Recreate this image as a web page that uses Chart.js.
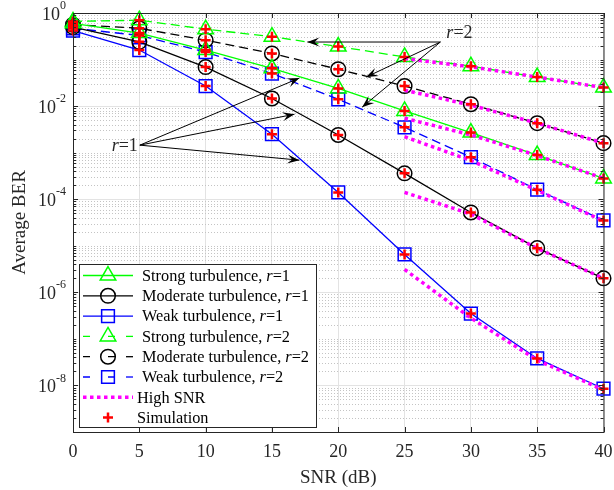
<!DOCTYPE html>
<html>
<head>
<meta charset="utf-8">
<script src="https://cdn.jsdelivr.net/npm/chart.js@4/dist/chart.umd.min.js"></script>
<style>
  html, body { margin: 0; padding: 0; background: #fff; }
  #wrap { width: 614px; height: 490px; }
</style>
</head>
<body>
<div id="wrap"><canvas id="c" width="614" height="490"></canvas></div>
<script>
// SNR (dB) on the x axis
const snr = [0, 5, 10, 15, 20, 25, 30, 35, 40];

// analytical curves, r = 1
const strongR1   = [0.60, 0.37, 0.16, 0.065, 0.024, 0.0079, 0.0027, 8.9e-4, 2.8e-4];
const moderateR1 = [0.50, 0.24, 0.069, 0.0146, 0.0024, 3.6e-4, 5.2e-5, 8.9e-6, 2.0e-6];
const weakR1     = [0.42, 0.16, 0.027, 0.0025, 1.4e-4, 6.5e-6, 3.5e-7, 3.8e-8, 8.5e-9];

// analytical curves, r = 2
const strongR2   = [0.66, 0.70, 0.45, 0.31, 0.19, 0.114, 0.072, 0.042, 0.025];
const moderateR2 = [0.56, 0.47, 0.26, 0.135, 0.062, 0.027, 0.011, 0.0043, 0.0016];
const weakR2     = [0.47, 0.33, 0.145, 0.05, 0.014, 0.0035, 8.0e-4, 1.6e-4, 3.5e-5];

// high SNR asymptotes
const highSnrX    = [25, 30, 35, 40];
const hsStrongR2  = [0.105, 0.070, 0.042, 0.025];
const hsModerateR2 = [0.022, 0.0105, 0.0043, 0.0016];
const hsStrongR1  = [0.0055, 0.0024, 8.7e-4, 2.8e-4];
const hsWeakR2    = [0.0022, 6.8e-4, 1.55e-4, 3.4e-5];
const hsModerateR1 = [1.4e-4, 4.8e-5, 8.8e-6, 2.0e-6];
const hsWeakR1    = [3.1e-6, 2.8e-7, 3.5e-8, 8.0e-9];

// ticks
const xTickVals = [0, 5, 10, 15, 20, 25, 30, 35, 40];
const yLabelExps = [0, -2, -4, -6, -8];

// annotation arrows (data coordinates)
const r1Origin = [5.04, 1.45e-3];
const r1Tips = [[17.07, 0.040], [16.7, 6.7e-3], [17.07, 6.9e-4]];
const r2Origin = [27.7, 0.238];
const r2Tips = [[17.67, 0.238], [22.1, 0.042], [21.8, 0.0095]];

const GREEN = '#00ff00', BLACK = '#000000', BLUE = '#0000ff', MAGENTA = '#ff00ff', RED = '#ff0000';
const FONT = '"Liberation Serif", "Times New Roman", serif';

const curves = [
  { name: 'Strong turbulence, ', r: '1', data: strongR1, color: GREEN, style: 'triangle', radius: 9, dash: [] },
  { name: 'Moderate turbulence, ', r: '1', data: moderateR1, color: BLACK, style: 'circle', radius: 7.3, dash: [] },
  { name: 'Weak turbulence, ', r: '1', data: weakR1, color: BLUE, style: 'rect', radius: 9, dash: [] },
  { name: 'Strong turbulence, ', r: '2', data: strongR2, color: GREEN, style: 'triangle', radius: 9, dash: [9, 5] },
  { name: 'Moderate turbulence, ', r: '2', data: moderateR2, color: BLACK, style: 'circle', radius: 7.3, dash: [9, 5] },
  { name: 'Weak turbulence, ', r: '2', data: weakR2, color: BLUE, style: 'rect', radius: 9, dash: [9, 5] },
];
const highSnr = [hsStrongR2, hsModerateR2, hsStrongR1, hsWeakR2, hsModerateR1, hsWeakR1];

const datasets = [];
curves.forEach(c => {
  datasets.push({
    label: c.name + 'r=' + c.r,
    data: snr.map((x, i) => ({ x, y: c.data[i] })),
    borderColor: c.color,
    borderWidth: 1.3,
    borderDash: c.dash,
    pointStyle: c.style,
    pointRadius: c.radius,
    pointBorderWidth: 1.5,
    pointBorderColor: c.color,
    pointBackgroundColor: 'rgba(0,0,0,0)',
    tension: 0,
    clip: false,
    order: 2,
  });
});
highSnr.forEach(arr => {
  datasets.push({
    label: 'High SNR',
    data: highSnrX.map((x, i) => ({ x, y: arr[i] })),
    borderColor: MAGENTA,
    borderWidth: 3.5,
    borderDash: [3.5, 3.5],
    borderCapStyle: 'butt',
    pointRadius: 0,
    tension: 0,
    clip: false,
    order: 1,
  });
});
const simPoints = [];
curves.forEach(c => snr.forEach((x, i) => simPoints.push({ x, y: c.data[i] })));
datasets.push({
  label: 'Simulation',
  data: simPoints,
  showLine: false,
  pointStyle: 'cross',
  pointRadius: 5,
  pointBorderWidth: 2.5,
  pointBorderColor: RED,
  borderColor: RED,
  clip: false,
  order: 0,
});

function drawArrow(ctx, x0, y0, x1, y1) {
  ctx.beginPath(); ctx.moveTo(x0, y0); ctx.lineTo(x1, y1); ctx.stroke();
  const len = Math.hypot(x1 - x0, y1 - y0);
  const ux = (x1 - x0) / len, uy = (y1 - y0) / len;
  const nx = -uy, ny = ux;
  const L = 12, W = 9;
  ctx.beginPath();
  ctx.moveTo(x1, y1);
  ctx.lineTo(x1 - L * ux + W / 2 * nx, y1 - L * uy + W / 2 * ny);
  ctx.lineTo(x1 - 0.6 * L * ux, y1 - 0.6 * L * uy);
  ctx.lineTo(x1 - L * ux - W / 2 * nx, y1 - L * uy - W / 2 * ny);
  ctx.closePath();
  ctx.fill();
}

// text like "Strong turbulence, r=1" with an italic r
function drawRText(ctx, parts, x, y, size) {
  let cx = x;
  parts.forEach(p => {
    ctx.font = (p.it ? 'italic ' : '') + size + 'px ' + FONT;
    ctx.fillText(p.t, cx, y);
    cx += ctx.measureText(p.t).width;
  });
  return cx;
}

function marker(ctx, style, radius, x, y, color, bw) {
  ctx.save();
  ctx.strokeStyle = color; ctx.fillStyle = 'rgba(0,0,0,0)'; ctx.lineWidth = bw; ctx.setLineDash([]);
  Chart.helpers.drawPoint(ctx, { pointStyle: style, radius, rotation: 0, borderWidth: bw }, x, y);
  ctx.restore();
}

const frame = {
  id: 'frame',
  beforeDatasetsDraw(chart) {
    const { ctx, chartArea: a, scales: { y } } = chart;
    ctx.save();
    ctx.strokeStyle = '#c4c4c4'; ctx.lineWidth = 1; ctx.setLineDash([1, 2]);
    y.ticks.forEach(t => {
      if (t.major) return;
      const py = Math.round(y.getPixelForValue(t.value)) + 0.5;
      ctx.beginPath(); ctx.moveTo(a.left, py); ctx.lineTo(a.right, py); ctx.stroke();
    });
    ctx.restore();
  },
  afterDraw(chart) {
    const { ctx, chartArea: a, scales: { x, y } } = chart;
    ctx.save();
    // box and inward ticks
    ctx.strokeStyle = '#262626'; ctx.lineWidth = 1; ctx.setLineDash([]);
    ctx.strokeRect(a.left + 0.5, a.top + 0.5, a.right - a.left, a.bottom - a.top);
    ctx.beginPath();
    xTickVals.forEach(v => {
      const px = Math.round(x.getPixelForValue(v)) + 0.5;
      ctx.moveTo(px, a.bottom); ctx.lineTo(px, a.bottom - 5);
      ctx.moveTo(px, a.top); ctx.lineTo(px, a.top + 5);
    });
    y.ticks.forEach(t => {
      const py = Math.round(y.getPixelForValue(t.value)) + 0.5;
      const l = t.major ? 5 : 3;
      ctx.moveTo(a.left, py); ctx.lineTo(a.left + l, py);
      ctx.moveTo(a.right, py); ctx.lineTo(a.right - l, py);
    });
    ctx.stroke();

    // tick labels
    ctx.fillStyle = '#262626';
    ctx.font = '18px ' + FONT;
    ctx.textAlign = 'center'; ctx.textBaseline = 'middle';
    xTickVals.forEach(v => ctx.fillText(String(v), x.getPixelForValue(v), a.bottom + 20));
    yLabelExps.forEach(e => {
      const py = y.getPixelForValue(Math.pow(10, e));
      const ex = String(e);
      ctx.font = '12px ' + FONT;
      const ew = ctx.measureText(ex).width;
      ctx.textAlign = 'left';
      ctx.fillText(ex, a.left - 7 - ew, py - 7);
      ctx.font = '18px ' + FONT;
      ctx.textAlign = 'right';
      ctx.fillText('10', a.left - 7 - ew, py + 2);
    });

    // axis titles
    ctx.textAlign = 'center';
    ctx.font = '19px ' + FONT;
    ctx.fillText('SNR (dB)', (a.left + a.right) / 2, 478);
    ctx.save();
    ctx.translate(20, (a.top + a.bottom) / 2);
    ctx.rotate(-Math.PI / 2);
    ctx.fillText('Average BER', 0, 0);
    ctx.restore();

    // arrows
    ctx.strokeStyle = '#000'; ctx.fillStyle = '#000'; ctx.lineWidth = 1;
    const o1 = [x.getPixelForValue(r1Origin[0]), y.getPixelForValue(r1Origin[1])];
    r1Tips.forEach(t => drawArrow(ctx, o1[0], o1[1], x.getPixelForValue(t[0]), y.getPixelForValue(t[1])));
    const o2 = [x.getPixelForValue(r2Origin[0]), y.getPixelForValue(r2Origin[1])];
    r2Tips.forEach(t => drawArrow(ctx, o2[0], o2[1], x.getPixelForValue(t[0]), y.getPixelForValue(t[1])));
    ctx.textAlign = 'left'; ctx.textBaseline = 'middle';
    ctx.fillStyle = '#262626';
    // "r=1" ends just left of its arrow origin
    ctx.font = 'italic 18px ' + FONT;
    const rw = ctx.measureText('r').width;
    ctx.font = '18px ' + FONT;
    const w1 = rw + ctx.measureText('=1').width;
    drawRText(ctx, [{ t: 'r', it: true }, { t: '=1' }], o1[0] - 2 - w1, o1[1] + 1, 18);
    drawRText(ctx, [{ t: 'r', it: true }, { t: '=2' }], o2[0] + 6, o2[1] - 9, 18);

    // legend
    const lx = 79, ly = 264, lw = 237, lh = 163;
    ctx.fillStyle = '#fff';
    ctx.fillRect(lx, ly, lw, lh);
    ctx.strokeStyle = '#262626'; ctx.lineWidth = 1;
    ctx.strokeRect(lx + 0.5, ly + 0.5, lw, lh);
    const rowH = 20.3, y0 = ly + 11.5, fs = 16.3;
    curves.forEach((c, i) => {
      const ry = y0 + i * rowH;
      ctx.strokeStyle = c.color; ctx.lineWidth = 1.3;
      ctx.setLineDash(c.dash.length ? [7, 18] : []);
      ctx.lineDashOffset = 0;
      ctx.beginPath(); ctx.moveTo(lx + 4, ry); ctx.lineTo(lx + 54, ry); ctx.stroke();
      if (c.dash.length) { ctx.beginPath(); ctx.moveTo(lx + 47, ry); ctx.lineTo(lx + 54, ry); ctx.stroke(); }
      ctx.setLineDash([]);
      marker(ctx, c.style, c.radius, lx + 29, ry, c.color, 1.5);
      ctx.fillStyle = '#000';
      drawRText(ctx, [{ t: c.name }, { t: 'r', it: true }, { t: '=' + c.r }], lx + 63, ry + 1, fs);
    });
    let ry = y0 + 6 * rowH;
    ctx.strokeStyle = MAGENTA; ctx.lineWidth = 3.5; ctx.setLineDash([3.5, 3.5]);
    ctx.beginPath(); ctx.moveTo(lx + 4, ry); ctx.lineTo(lx + 54, ry); ctx.stroke();
    ctx.setLineDash([]);
    ctx.fillStyle = '#000';
    drawRText(ctx, [{ t: 'High SNR' }], lx + 58, ry + 1, fs);
    ry += rowH;
    marker(ctx, 'cross', 5, lx + 29, ry, RED, 2.5);
    ctx.fillStyle = '#000';
    drawRText(ctx, [{ t: 'Simulation' }], lx + 58, ry + 1, fs);
    ctx.restore();
  }
};

new Chart(document.getElementById('c'), {
  type: 'line',
  data: { datasets },
  options: {
    responsive: false,
    animation: false,
    devicePixelRatio: 1,
    layout: { padding: { left: 73, top: 13, right: 9, bottom: 58 } },
    plugins: { legend: { display: false }, tooltip: { enabled: false } },
    scales: {
      x: {
        type: 'linear', min: 0, max: 40,
        afterBuildTicks: s => { s.ticks = xTickVals.map(v => ({ value: v })); },
        ticks: { display: false },
        grid: { color: '#e3e3e3', drawTicks: false, lineWidth: 1 },
        border: { display: false },
      },
      y: {
        type: 'logarithmic', min: 1e-9, max: 1,
        afterBuildTicks: s => {
          const t = [];
          for (let e = -9; e <= 0; e++) {
            for (let m = 1; m < 10; m++) {
              const v = m * Math.pow(10, e);
              if (v <= 1.0000001) t.push({ value: v, major: m === 1 && e % 2 === 0 });
            }
          }
          s.ticks = t;
        },
        ticks: { display: false },
        grid: { color: c => (c.tick && c.tick.major) ? '#e3e3e3' : 'rgba(0,0,0,0)', drawTicks: false, lineWidth: 1 },
        border: { display: false },
      }
    }
  },
  plugins: [frame]
});
</script>
</body>
</html>
